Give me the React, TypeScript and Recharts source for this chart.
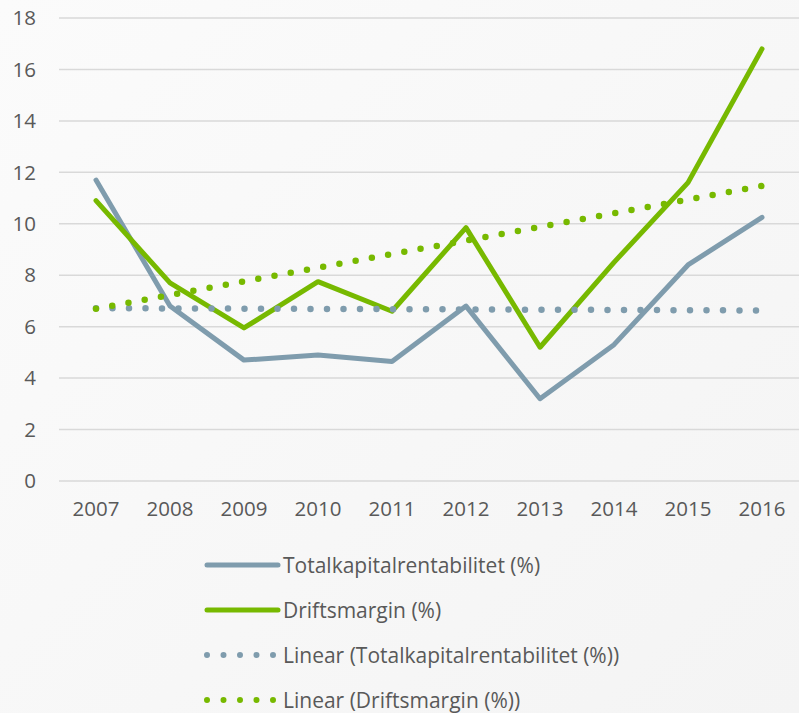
import React from "react";
import { LineChart, Line, XAxis, YAxis, CartesianGrid } from "recharts";

const years = ["2007", "2008", "2009", "2010", "2011", "2012", "2013", "2014", "2015", "2016"];
const totalkapital = [11.7, 6.8, 4.7, 4.9, 4.65, 6.8, 3.2, 5.3, 8.4, 10.25];
const driftsmargin = [10.9, 7.7, 5.95, 7.75, 6.6, 9.85, 5.2, 8.5, 11.6, 16.8];
const linearTotal = [6.72, 6.71, 6.7, 6.69, 6.68, 6.67, 6.66, 6.65, 6.64, 6.63];
const linearDrift = [6.7, 7.23, 7.76, 8.29, 8.82, 9.35, 9.88, 10.41, 10.94, 11.47];
const yTicks = [0, 2, 4, 6, 8, 10, 12, 14, 16, 18];

const BLUE = "#7f9cad";
const GREEN = "#77b900";
const TEXT = "#595959";
const FONT = "'Open Sans', Lato, sans-serif";

const data = years.map((y, i) => ({
  year: y,
  total: totalkapital[i],
  drift: driftsmargin[i],
  linTotal: linearTotal[i],
  linDrift: linearDrift[i],
}));

const legendItems = [
  { label: "Totalkapitalrentabilitet (%)", color: BLUE, dotted: false },
  { label: "Driftsmargin (%)", color: GREEN, dotted: false },
  { label: "Linear (Totalkapitalrentabilitet (%))", color: BLUE, dotted: true },
  { label: "Linear (Driftsmargin (%))", color: GREEN, dotted: true },
];

export default function App() {
  return (
    <div
      style={{
        position: "absolute",
        left: 0,
        top: 0,
        width: 799,
        height: 713,
        background: "linear-gradient(135deg, #fbfbfb 0%, #f4f4f4 100%)",
        fontFamily: FONT,
        overflow: "hidden",
      }}
    >
      <LineChart
        width={799}
        height={540}
        data={data}
        margin={{ top: 18, right: 0, left: 0, bottom: 29 }}
      >
        <CartesianGrid vertical={false} stroke="#d9d9d9" strokeWidth={1.5} />
        <XAxis
          dataKey="year"
          axisLine={false}
          tickLine={false}
          tickSize={0}
          tickMargin={20}
          padding={{ left: 37, right: 37 }}
          tick={{ fill: TEXT, fontSize: 20.5, fontFamily: FONT }}
          interval={0}
        />
        <YAxis
          domain={[0, 18]}
          ticks={yTicks}
          width={59}
          axisLine={false}
          tickLine={false}
          tickSize={0}
          tickMargin={23}
          tick={{ fill: TEXT, fontSize: 20.5, fontFamily: FONT }}
        />
        <Line
          dataKey="total"
          stroke={BLUE}
          strokeWidth={5}
          dot={false}
          strokeLinecap="round"
          strokeLinejoin="round"
          isAnimationActive={false}
        />
        <Line
          dataKey="drift"
          stroke={GREEN}
          strokeWidth={5}
          dot={false}
          strokeLinecap="round"
          strokeLinejoin="round"
          isAnimationActive={false}
        />
        <Line
          dataKey="linTotal"
          stroke={BLUE}
          strokeWidth={6.5}
          strokeDasharray="0 16.5"
          strokeLinecap="round"
          dot={false}
          isAnimationActive={false}
        />
        <Line
          dataKey="linDrift"
          stroke={GREEN}
          strokeWidth={6.5}
          strokeDasharray="0 16.5"
          strokeLinecap="round"
          dot={false}
          isAnimationActive={false}
        />
      </LineChart>
      <div style={{ position: "absolute", left: 203, top: 542 }}>
        {legendItems.map((item) => (
          <div
            key={item.label}
            style={{ display: "flex", alignItems: "center", height: 45, color: TEXT, fontSize: 21, lineHeight: "24px" }}
          >
            <svg width={80} height={12} style={{ marginRight: 0 }}>
              <line
                x1={4}
                y1={6}
                x2={75}
                y2={6}
                stroke={item.color}
                strokeWidth={item.dotted ? 6 : 5}
                strokeLinecap="round"
                strokeDasharray={item.dotted ? "0 16.5" : undefined}
              />
            </svg>
            <span>{item.label}</span>
          </div>
        ))}
      </div>
    </div>
  );
}
